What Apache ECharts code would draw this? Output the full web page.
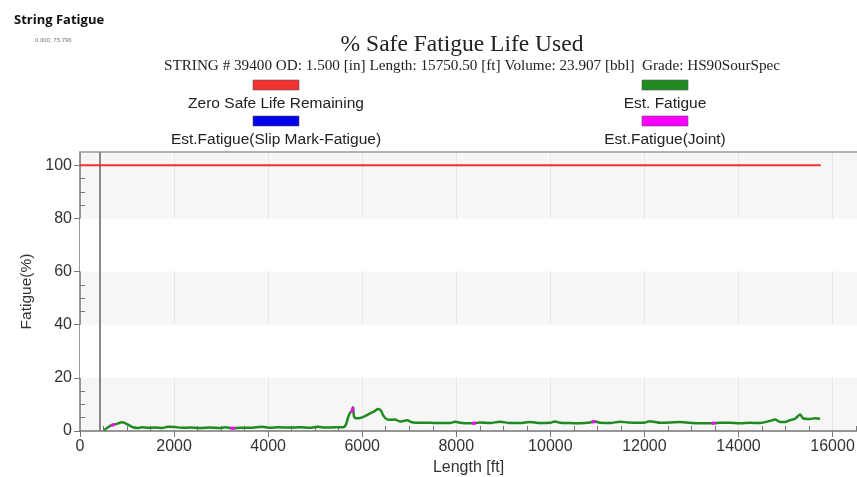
<!DOCTYPE html>
<html><head><meta charset="utf-8">
<script src="https://cdn.jsdelivr.net/npm/echarts@6/dist/echarts.min.js"></script>
<style>html,body{margin:0;padding:0;background:#fff}#c{width:857px;height:477px}</style>
</head><body><div id="c"></div>
<script>
// ---- data ----
const seriesNames = ['Zero Safe Life Remaining', 'Est. Fatigue', 'Est.Fatigue(Slip Mark-Fatigue)', 'Est.Fatigue(Joint)'];
const limitLine = [[0, 100], [15750.5, 100]];
const fatigueLength = [510,595,680,765,893,978,1063,1148,1212,1318,1446,1595,1744,1871,2020,2169,2339,2552,2764,2977,3083,3253,3402,3615,3870,4040,4210,4465,4678,4890,5060,5209,5422,5592,5656,5698,5741,5783,5805,5826,5869,5954,6060,6166,6273,6336,6400,6443,6507,6592,6698,6804,6953,7059,7230,7442,7655,7867,7974,8080,8293,8378,8505,8718,8930,9143,9356,9568,9781,9994,10100,10206,10419,10631,10844,10929,11057,11270,11482,11652,11907,12014,12120,12226,12333,12545,12758,12970,13183,13395,13480,13608,13821,14033,14246,14459,14671,14778,14884,14991,15097,15203,15310,15373,15522,15628,15735];
const fatigueValue = [0.3,1.4,2.3,2.6,3.3,2.8,2.0,1.3,1.1,1.4,1.2,1.3,1.1,1.6,1.5,1.2,1.3,1.1,1.3,1.1,1.4,1.0,1.2,1.2,1.6,1.2,1.4,1.3,1.4,1.2,1.6,1.3,1.4,1.4,2.5,5.0,6.8,7.5,8.9,5.5,4.8,4.9,5.6,6.6,7.6,8.3,7.6,6.0,4.6,4.2,4.3,3.6,4.0,3.3,3.1,3.1,3.0,3.0,3.5,3.1,2.9,2.9,3.2,3.0,3.5,3.0,3.0,3.4,3.0,3.1,3.6,3.1,3.0,2.9,3.2,3.7,3.1,3.0,3.5,3.2,3.1,3.2,3.7,3.4,3.1,3.2,3.4,3.1,2.9,2.9,2.9,3.1,3.1,2.9,3.1,3.0,3.8,4.3,3.4,3.4,4.1,4.6,6.2,4.8,4.5,4.8,4.6];
const jointLength = [660,700,740,null,3200,3250,3300,null,5770,5790,5810,null,8330,8375,8420,null,10880,10920,10960,null,13430,13470,13510];
const jointValue  = [2.0,2.3,2.5,null,1.1,1.0,1.1,null,7.0,8.0,8.9,null,2.9,2.9,3.0,null,3.4,3.8,3.5,null,2.9,2.9,3.0];
const slipMark = [];
const referenceDepth = 430;
const xTicks = [0,2000,4000,6000,8000,10000,12000,14000,16000];
const yTicks = [0,20,40,60,80,100];
const whiteBands = [[20,40],[60,80]];

const fatigueData = fatigueLength.map((x,i)=>[x,fatigueValue[i]]);
const jointData = jointLength.map((x,i)=> x===null ? ['-','-'] : [x,jointValue[i]]);
const X_MAX = 16520, Y_MAX = 105;
const xMinor = []; for (let v=500; v<X_MAX; v+=500) if (v%2000) xMinor.push(v);
const yMinor = []; for (let v=5; v<Y_MAX; v+=5) if (v%20) yMinor.push(v);

const colors = ['#f03232', '#1f8a1f', '#0000ee', '#ff00ff'];
const font = 'Liberation Sans, Arial, sans-serif';

const chart = echarts.init(document.getElementById('c'));
const legendPos = [[276,85],[665,85],[276,121],[665,121]];
const graphics = [];
seriesNames.forEach((n,i)=>{
  const [cx,cy] = legendPos[i];
  graphics.push({type:'rect', shape:{x:cx-23,y:cy-5,width:46,height:10}, style:{fill:colors[i], stroke:'#555', lineWidth:0.6}});
  graphics.push({type:'text', x:cx, y:cy+19, style:{text:n, font:'15.5px '+font, fill:'#222', align:'center', verticalAlign:'middle'}});
});

chart.setOption({
  animation:false,
  backgroundColor:'#fff',
  title:[
    {text:'String Fatigue', left:9, top:9, textStyle:{fontFamily:'Open Sans, sans-serif', fontWeight:'bold', fontSize:13, color:'#111'}},
    {text:'0.000, 75.796', left:30, top:32, textStyle:{fontFamily:font, fontWeight:'normal', fontSize:6, color:'#777'}},
    {text:'% Safe Fatigue Life Used', left:457, textAlign:'center', top:28, textStyle:{fontFamily:'Liberation Serif, serif', fontWeight:'normal', fontSize:23.5, color:'#222'}},
    {text:'STRING # 39400 OD: 1.500 [in] Length: 15750.50 [ft] Volume: 23.907 [bbl]  Grade: HS90SourSpec', left:467, textAlign:'center', top:54, textStyle:{fontFamily:'Liberation Serif, serif', fontWeight:'normal', fontSize:15.2, color:'#222'}}
  ],
  graphic: graphics,
  grid:{left:80, top:152, right:0, bottom:46, show:true, backgroundColor:'#f6f6f6', borderWidth:0, outerBoundsMode:'none', containLabel:false},
  xAxis:[
    {type:'value', min:0, max:X_MAX, interval:2000, position:'bottom',
     name:'Length [ft]', nameLocation:'middle', nameGap:27, nameTextStyle:{fontFamily:font, fontSize:16, color:'#333'},
     axisLine:{show:true, onZero:false, lineStyle:{color:'#777', width:1.5}},
     axisTick:{show:true, inside:false, length:6, lineStyle:{color:'#777'}, customValues:xTicks},
     axisLabel:{fontFamily:font, fontSize:16, color:'#333', margin:8, customValues:xTicks, formatter:v=>String(v)},
     splitLine:{show:true, lineStyle:{color:'#e6e6e6', width:1}}},
    {type:'value', min:0, max:X_MAX, position:'bottom', offset:0,
     axisLine:{show:false, onZero:false}, axisLabel:{show:false}, splitLine:{show:false},
     axisTick:{show:true, inside:true, length:5, lineStyle:{color:'#777'}, customValues:xMinor}},
    {type:'value', min:0, max:X_MAX, position:'top', offset:0,
     axisLine:{show:true, onZero:false, lineStyle:{color:'#999', width:1.5}}, axisLabel:{show:false}, splitLine:{show:false}, axisTick:{show:false}}
  ],
  yAxis:[
    {type:'value', min:0, max:Y_MAX, interval:20, position:'left',
     name:'Fatigue(%)', nameLocation:'middle', nameGap:34, nameRotate:90, nameTextStyle:{fontFamily:font, fontSize:15.5, color:'#333'},
     axisLine:{show:true, onZero:false, lineStyle:{color:'#777', width:1.5}},
     axisTick:{show:true, inside:false, length:6, lineStyle:{color:'#777'}, customValues:yTicks},
     axisLabel:{fontFamily:font, fontSize:16, color:'#333', margin:8, customValues:yTicks},
     splitLine:{show:false}},
    {type:'value', min:0, max:Y_MAX, position:'left', offset:0,
     axisLine:{show:false, onZero:false}, axisLabel:{show:false}, splitLine:{show:false},
     axisTick:{show:true, inside:true, length:5, lineStyle:{color:'#777'}, customValues:yMinor}}
  ],
  series:[
    {name:seriesNames[0], type:'line', data:limitLine, symbol:'none', lineStyle:{color:colors[0], width:2}, z:5,
     markArea:{silent:true, itemStyle:{color:'#ffffff'}, data: whiteBands.map(b=>[{yAxis:b[0]},{yAxis:b[1]}])},
     markLine:{silent:true, symbol:'none', label:{show:false}, lineStyle:{color:'#888', width:2, type:'solid'}, data:[{xAxis:referenceDepth}]}},
    {name:seriesNames[1], type:'line', data:fatigueData, symbol:'none', smooth:0.3, lineStyle:{color:colors[1], width:2.5}, z:6},
    {name:seriesNames[2], type:'line', data:slipMark, symbol:'none', lineStyle:{color:colors[2], width:2.5}, z:7},
    {name:seriesNames[3], type:'line', data:jointData, symbol:'none', connectNulls:false, lineStyle:{color:colors[3], width:3}, z:8}
  ]
});
</script></body></html>
